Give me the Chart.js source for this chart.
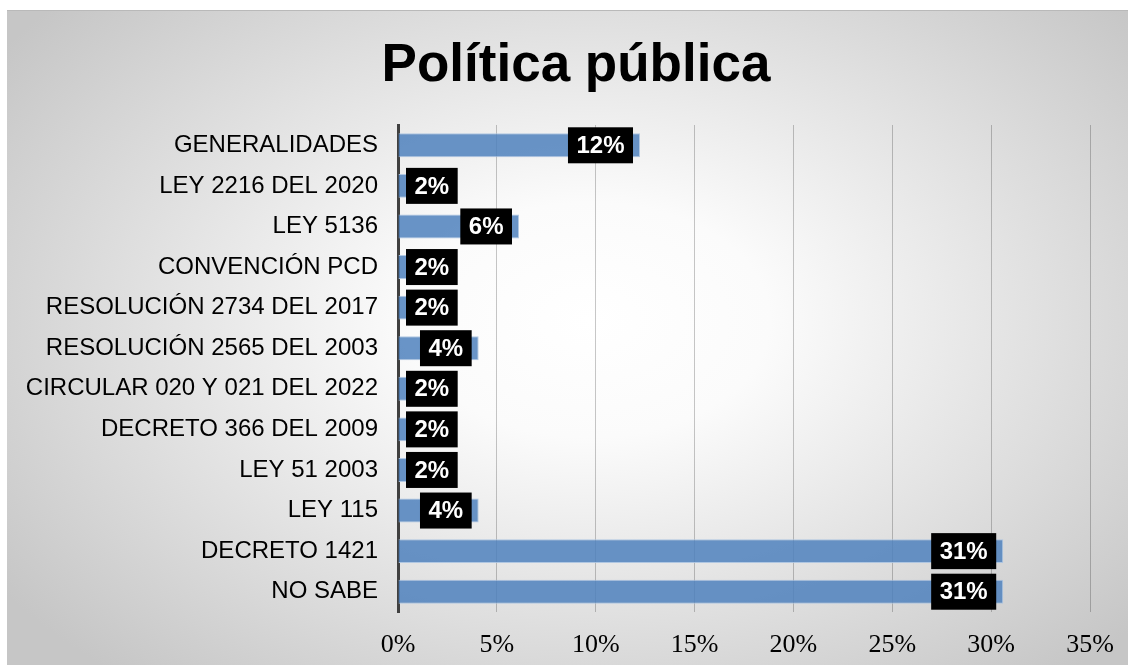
<!DOCTYPE html>
<html><head><meta charset="utf-8">
<script src="https://cdn.jsdelivr.net/npm/chart.js@4/dist/chart.umd.min.js"></script>
<style>html,body{margin:0;padding:0;background:#fff;overflow:hidden;}</style>
</head><body>
<canvas id="c" width="1128" height="665" style="width:1128px;height:665px;display:block"></canvas>
<script>
const titleText = 'Política pública';
const categories = [
  'GENERALIDADES',
  'LEY 2216 DEL 2020',
  'LEY 5136',
  'CONVENCIÓN PCD',
  'RESOLUCIÓN 2734 DEL 2017',
  'RESOLUCIÓN 2565 DEL 2003',
  'CIRCULAR 020 Y 021 DEL 2022',
  'DECRETO 366 DEL 2009',
  'LEY 51 2003',
  'LEY 115',
  'DECRETO 1421',
  'NO SABE'
];
const values = [12.24, 2.04, 6.12, 2.04, 2.04, 4.08, 2.04, 2.04, 2.04, 4.08, 30.61, 30.61];
const valueLabels = ['12%', '2%', '6%', '2%', '2%', '4%', '2%', '2%', '2%', '4%', '31%', '31%'];
const xTickValues = [0, 5, 10, 15, 20, 25, 30, 35];

const bgPlugin = {
  id: 'bg',
  beforeDraw(chart) {
    const ctx = chart.ctx, W = chart.width, H = chart.height;
    ctx.save();
    ctx.fillStyle = '#ffffff';
    ctx.fillRect(0, 0, W, H);
    ctx.beginPath();
    ctx.rect(7, 10, W - 7, H - 10);
    ctx.clip();
    const cx = 590, cy = 320, rx = 720, ry = 470;
    ctx.translate(cx, cy);
    ctx.scale(rx / ry, 1);
    const g = ctx.createRadialGradient(0, 0, 0, 0, 0, ry);
    g.addColorStop(0, '#ffffff');
    g.addColorStop(0.25, '#fbfbfb');
    g.addColorStop(1, '#c6c6c6');
    ctx.fillStyle = g;
    ctx.fillRect(-3000, -3000, 6000, 6000);
    ctx.restore();
    ctx.save();
    ctx.fillStyle = '#b9b9b9';
    ctx.fillRect(7, 10, W - 7, 1);
    ctx.restore();
  }
};

const titlePlugin = {
  id: 'customTitle',
  afterDraw(chart) {
    const ctx = chart.ctx;
    ctx.save();
    ctx.font = 'bold 53px "Liberation Sans", Arial, sans-serif';
    ctx.fillStyle = '#000000';
    ctx.textAlign = 'center';
    ctx.textBaseline = 'alphabetic';
    ctx.fillText(titleText, 576, 81);
    ctx.restore();
  }
};

const labelPlugin = {
  id: 'boxLabels',
  afterDatasetsDraw(chart) {
    const ctx = chart.ctx;
    const meta = chart.getDatasetMeta(0);
    const base = chart.scales.x.getPixelForValue(0);
    ctx.save();
    ctx.font = 'bold 24px "Liberation Sans", Arial, sans-serif';
    ctx.textAlign = 'center';
    ctx.textBaseline = 'middle';
    meta.data.forEach((bar, i) => {
      const txt = valueLabels[i];
      const w = ctx.measureText(txt).width + 17;
      const h = 36;
      let left = bar.x - 7 - w;
      if (left < base + 8) left = base + 8;
      ctx.fillStyle = '#000000';
      ctx.fillRect(left, bar.y - h / 2, w, h);
      ctx.fillStyle = '#ffffff';
      ctx.fillText(txt, left + w / 2, bar.y + 1);
    });
    ctx.restore();
  }
};

new Chart(document.getElementById('c'), {
  type: 'bar',
  data: {
    labels: categories,
    datasets: [{
      data: values,
      backgroundColor: 'rgba(79,129,189,0.85)',
      borderColor: 'rgba(170,195,225,0.9)',
      borderWidth: 1,
      barPercentage: 0.59,
      categoryPercentage: 1.0
    }]
  },
  options: {
    indexAxis: 'y',
    responsive: false,
    animation: false,
    devicePixelRatio: 1,
    layout: { padding: { left: 8, right: 38, top: 125, bottom: 0 } },
    plugins: {
      legend: { display: false },
      tooltip: { enabled: false },
      title: { display: false }
    },
    scales: {
      x: {
        type: 'linear',
        min: 0,
        max: 35,
        afterBuildTicks: (s) => { s.ticks = xTickValues.map(v => ({ value: v })); },
        afterFit: (s) => { s.height = 53; s.paddingRight = 0; s.paddingLeft = 0; },
        ticks: {
          callback: (v) => v + '%',
          color: '#000000',
          font: { family: '"Liberation Serif", "DejaVu Serif", serif', size: 26, lineHeight: 1.2 },
          padding: 18,
          maxRotation: 0,
          autoSkip: false
        },
        grid: { color: 'rgba(0,0,0,0.22)', lineWidth: 1, drawTicks: false },
        border: { display: false }
      },
      y: {
        type: 'category',
        afterFit: (s) => { s.width = 390; s.paddingTop = 0; s.paddingBottom = 0; },
        ticks: {
          color: '#000000',
          font: { family: '"Liberation Sans", Arial, sans-serif', size: 24 },
          padding: 12,
          autoSkip: false
        },
        grid: { display: false },
        border: { display: true, color: '#404040', width: 3 }
      }
    }
  },
  plugins: [bgPlugin, labelPlugin, titlePlugin]
});
</script>
</body></html>
